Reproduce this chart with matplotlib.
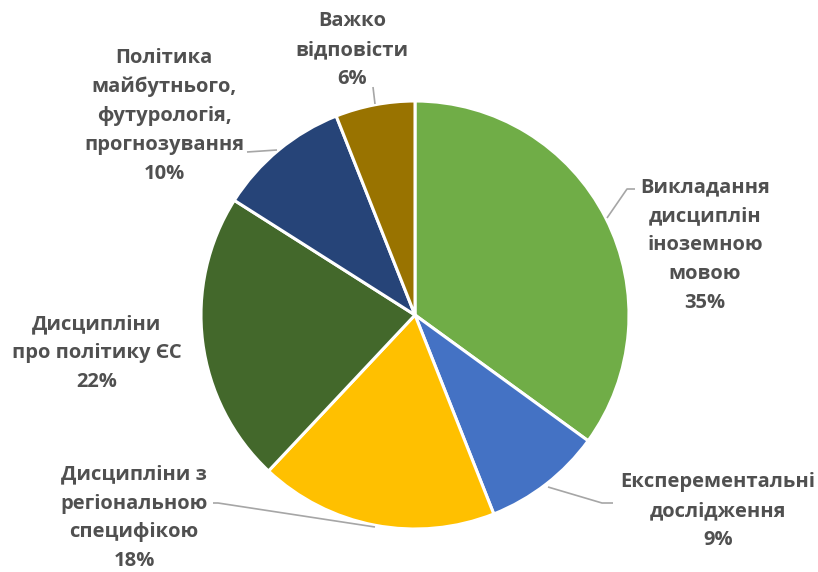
import matplotlib
matplotlib.use("Agg")
import matplotlib.pyplot as plt

# ---- data ----
labels = [
    "Викладання\nдисциплін\nіноземною\nмовою",
    "Експерементальні\nдослідження",
    "Дисципліни з\nрегіональною\nспецифікою",
    "Дисципліни\nпро політику ЄС",
    "Політика\nмайбутнього,\nфутурологія,\nпрогнозування",
    "Важко\nвідповісти",
]
shares = [35, 9, 18, 22, 10, 6]
colors = ["#70AD47", "#4472C4", "#FFC000", "#43682B", "#264478", "#997300"]

W, H = 818, 572
TEXT = "#505050"
LINE = "#A6A6A6"

fig = plt.figure(figsize=(W / 100, H / 100), dpi=100)
ax = fig.add_axes([0, 0, 1, 1])


def py(y):
    # pixel row (from top) -> data y
    return H - y


ax.pie(shares, colors=colors, startangle=90, counterclock=False,
       center=(415, py(315)), radius=214,
       wedgeprops=dict(edgecolor="white", linewidth=2.2))

ax.set_xlim(0, W)
ax.set_ylim(0, H)
ax.set_aspect("equal")
ax.axis("off")

# label block centres and leader lines (pixel coords)
label_pos = [(705, 245), (718, 511), (134, 518), (97, 353), (164, 116), (352, 50)]
leaders = [
    [(635, 189), (627, 189), (607, 218)],
    [(613, 503), (602, 503), (548, 487)],
    [(213, 503), (218, 503), (375, 527)],
    None,
    [(247, 152), (277, 150)],
    [(373, 87), (375, 104)],
]

for lab, s, (x, y), ld in zip(labels, shares, label_pos, leaders):
    ax.text(x, py(y), f"{lab}\n{s}%", ha="center", va="center",
            multialignment="center", fontsize=14.5, fontweight="bold",
            family=["Open Sans", "DejaVu Sans"], color=TEXT, linespacing=1.6)
    if ld:
        xs = [p[0] for p in ld]
        ys = [py(p[1]) for p in ld]
        ax.plot(xs, ys, color=LINE, lw=1.2, solid_capstyle="butt")

fig.savefig("out.png", dpi=100, facecolor="white")
